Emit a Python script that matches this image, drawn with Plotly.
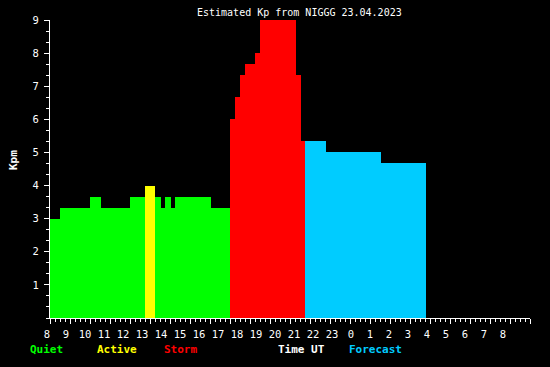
import plotly.graph_objects as go

# ---- data ----
# segment edges in hours UT from 08:00 (values > 24 are the next day)
edges_h = [8.0, 8.5, 10.0, 10.55, 12.0, 12.75, 13.25, 13.55, 13.75, 14.05, 14.25,
           16.05, 17.0, 17.25, 17.5, 17.75, 18.25, 18.5, 20.3, 20.55, 20.75,
           21.8, 24.55, 26.8]
kp_values = [3.0, 3.333, 3.667, 3.333, 3.667, 4.0, 3.667, 3.333, 3.667, 3.333,
             3.667, 3.333, 6.0, 6.667, 7.333, 7.667, 8.0, 9.0, 7.333, 5.333,
             5.333, 5.0, 4.667]
is_forecast = [False] * 20 + [True] * 3

hour_ticks = list(range(8, 33))
hour_labels = [str(h % 24) for h in hour_ticks]
kp_ticks = [1, 2, 3, 4, 5, 6, 7, 8, 9]

colors = {"Quiet": "#00FF00", "Active": "#FFFF00", "Storm": "#FF0000",
          "Forecast": "#00CCFF"}
legend_items = [("Quiet", 28), ("Active", 95), ("Storm", 162),
                ("Time UT", 276), ("Forecast", 347)]

FONT = "DejaVu Sans Mono"
W, H = 550, 367
L, R, T, B = 50, 20, 20, 49


def status(v, f):
    if f:
        return "Forecast"
    if v < 3.9:
        return "Quiet"
    if v < 4.9:
        return "Active"
    return "Storm"


fig = go.Figure()
for cat in ["Quiet", "Active", "Storm", "Forecast"]:
    xs, ws, ys = [], [], []
    for i, v in enumerate(kp_values):
        if status(v, is_forecast[i]) == cat:
            a, b = edges_h[i], edges_h[i + 1]
            xs.append((a + b) / 2)
            ws.append(b - a)
            ys.append(v)
    fig.add_trace(go.Bar(x=xs, y=ys, width=ws, name=cat,
                         marker=dict(color=colors[cat], line=dict(width=0)),
                         showlegend=False, hoverinfo="skip"))

# invisible trace to anchor the label axis
fig.add_trace(go.Scatter(x=[0], y=[0], xaxis="x2", mode="markers",
                         marker=dict(opacity=0), showlegend=False,
                         hoverinfo="skip"))

pw = W - L - R
ph = H - T - B
# label axis: the hour labels in the reference are spaced 19 px apart
lab_step = 19.0

fig.update_layout(
    width=W, height=H,
    margin=dict(l=L, r=R, t=T, b=B, pad=0, autoexpand=False),
    paper_bgcolor="black", plot_bgcolor="black",
    bargap=0,
    font=dict(family=FONT, color="white", size=10),
    xaxis=dict(range=[8, 32], showgrid=False, zeroline=False, automargin=False,
               showline=True, linecolor="white", linewidth=1,
               layer="below traces",
               tickmode="array", tickvals=hour_ticks, ticktext=[""] * len(hour_ticks),
               ticks="outside", ticklen=5, tickcolor="white", tickwidth=1,
               minor=dict(dtick=0.25, ticks="outside", ticklen=3,
                          tickcolor="white", tickwidth=1, showgrid=False),
               fixedrange=True),
    xaxis2=dict(range=[0, pw / lab_step], overlaying="x", side="bottom",
                automargin=False, fixedrange=True,
                showgrid=False, zeroline=False, showline=False,
                tickmode="array", tickvals=list(range(len(hour_labels))),
                ticktext=hour_labels, ticks="", ticklabelstandoff=8,
                ticklabelshift=-3,
                tickfont=dict(family=FONT, size=10.5, color="white")),
    yaxis=dict(range=[0, 9], showgrid=False, zeroline=False, automargin=False,
               showline=True, linecolor="white", linewidth=1,
               layer="below traces",
               tickmode="array", tickvals=kp_ticks,
               ticks="outside", ticklen=5, tickcolor="white", tickwidth=1,
               ticklabelstandoff=3,
               tickfont=dict(family=FONT, size=10.5, color="white"),
               minor=dict(dtick=1 / 3, ticks="outside", ticklen=3,
                          tickcolor="white", tickwidth=1, showgrid=False),
               fixedrange=True),
)

annotations = [
    dict(text="Estimated Kp from NIGGG 23.04.2023", xref="paper", yref="paper",
         x=(299 - L) / pw, y=1 + (T - 12) / ph, xanchor="center",
         yanchor="middle", showarrow=False,
         font=dict(family=FONT, size=10, color="white")),
    dict(text="<b>Kpm</b>", xref="paper", yref="paper",
         x=(13 - L) / pw, y=(318 - 160) / ph, xanchor="center",
         yanchor="middle", textangle=-90, showarrow=False,
         font=dict(family=FONT, size=11, color="white")),
]
for name, px in legend_items:
    col = colors.get(name, "white")
    annotations.append(dict(text="<b>" + name + "</b>", xref="paper", yref="paper",
                            x=(px - L) / pw, y=(318 - 349) / ph,
                            xanchor="left", yanchor="middle", showarrow=False,
                            font=dict(family=FONT, size=11, color=col)))
fig.update_layout(annotations=annotations)

fig.write_html("out.html",
               config={"displayModeBar": False},
               post_script="document.body.style.margin='0';"
                           "document.body.style.background='black';")
